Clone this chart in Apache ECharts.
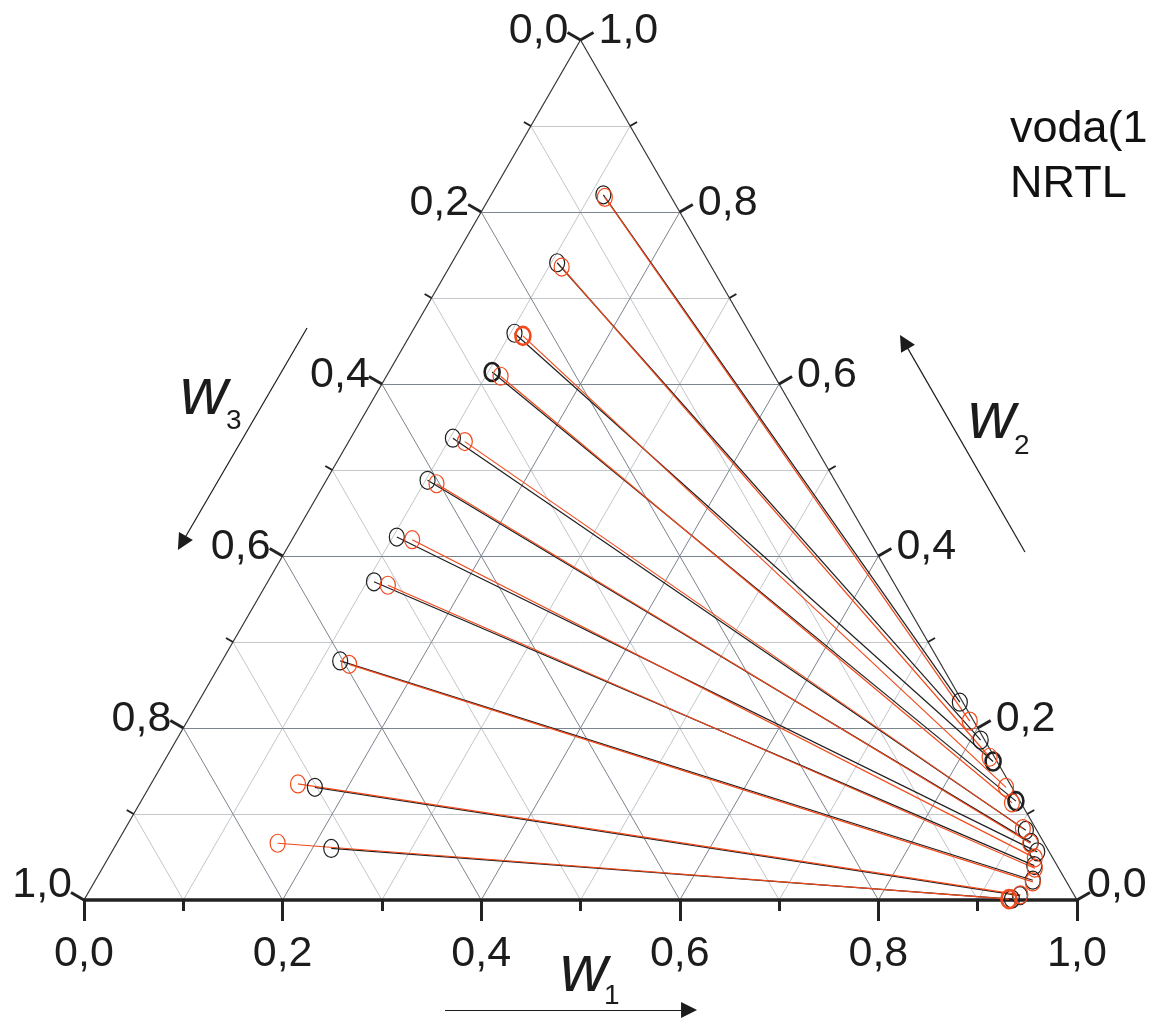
<!DOCTYPE html>
<html>
<head>
<meta charset="utf-8">
<script src="https://cdn.jsdelivr.net/npm/echarts@6/dist/echarts.min.js"></script>
<style>
  html, body { margin: 0; padding: 0; background: #ffffff; }
  #chart { width: 1159px; height: 1019px; }
</style>
</head>
<body>
<div id="chart"></div>
<script>
// Tie-line end points as mass fractions (w1, w2); w3 = 1 - w1 - w2.
// Experimental (black)
const expLeftW1  = [0.113, 0.106, 0.104, 0.104, 0.103, 0.102, 0.104, 0.107, 0.119, 0.167, 0.219];
const expLeftW2  = [0.820, 0.741, 0.659, 0.614, 0.537, 0.488, 0.422, 0.370, 0.278, 0.131, 0.060];
const expRightW1 = [0.767, 0.810, 0.835, 0.881, 0.908, 0.920, 0.932, 0.937, 0.944, 0.940, 0.934];
const expRightW2 = [0.230, 0.186, 0.161, 0.115, 0.081, 0.067, 0.056, 0.040, 0.023, 0.005, 0.001];
// NRTL correlation (orange)
const nrtlLeftW1  = [0.116, 0.113, 0.114, 0.115, 0.117, 0.113, 0.121, 0.123, 0.130, 0.148, 0.162];
const nrtlLeftW2  = [0.817, 0.736, 0.656, 0.609, 0.533, 0.484, 0.419, 0.366, 0.274, 0.135, 0.066];
const nrtlRightW1 = [0.788, 0.829, 0.863, 0.878, 0.904, 0.920, 0.933, 0.939, 0.945, 0.940, 0.931];
const nrtlRightW2 = [0.208, 0.166, 0.131, 0.113, 0.083, 0.066, 0.049, 0.037, 0.021, 0.006, 0.001];
// Axis ticks
const tickValues = [0, 0.2, 0.4, 0.6, 0.8, 1.0];
const tickLabels = ['0,0', '0,2', '0,4', '0,6', '0,8', '1,0'];

const SQ = Math.sqrt(3) / 2;
const PLOT_W = 993;            // pixel width of the triangle base
const px = (n) => n / PLOT_W;  // pixel length -> data units

// ternary (w1, w2) -> cartesian (x, y)
function tern(w1, w2) { return [w1 + w2 / 2, w2 * SQ]; }
function shift(p, dx, dy) { return [p[0] + dx, p[1] + dy]; }

const BLACK = '#1f1f1f';
const ORANGE = '#f24a1c';
const INK = '#1c1c1c';
const FONT = 'Liberation Sans, Arial, Helvetica, sans-serif';

// grid lines
const minorGrid = [], majorGrid = [];
for (let i = 1; i <= 9; i++) {
  const v = i / 10;
  const arr = (i % 2 === 0) ? majorGrid : minorGrid;
  arr.push({ coords: [tern(0, v), tern(1 - v, v)] });
  arr.push({ coords: [tern(v, 0), tern(v, 1 - v)] });
  arr.push({ coords: [tern(1 - v, 0), tern(0, 1 - v)] });
}

// triangle frame
const frame = [
  { coords: [tern(0, 0), tern(0, 1)], lineStyle: { width: 1.2, color: '#333' } },
  { coords: [tern(1, 0), tern(0, 1)], lineStyle: { width: 1.2, color: '#333' } },
  { coords: [tern(0, 0), tern(1, 0)], lineStyle: { width: 3.5, color: '#222' } }
];

// tick marks
const ticks = [];
const nL = [-0.866, 0.5], nR = [0.866, 0.5];
for (let i = 0; i <= 10; i++) {
  const v = i / 10;
  const major = i % 2 === 0;
  const b = tern(v, 0);
  ticks.push({ coords: [b, shift(b, 0, -px(major ? 21 : 11))], lineStyle: { width: 3, color: '#222' } });
  const l = tern(0, 1 - v);
  const ll = px(major ? 15 : 8);
  ticks.push({ coords: [l, shift(l, nL[0] * ll, nL[1] * ll)], lineStyle: { width: major ? 3 : 2, color: '#222' } });
  const r = tern(1 - v, v);
  ticks.push({ coords: [r, shift(r, nR[0] * ll, nR[1] * ll)], lineStyle: { width: major ? 3 : 2, color: '#222' } });
}

// tick labels: anchor point on the frame plus a pixel offset
const tickText = [];
tickValues.forEach((v, i) => {
  tickText.push({ p: tern(v, 0), text: tickLabels[i], dx: 0, dy: 54, align: 'center' });
  tickText.push({ p: tern(0, 1 - v), text: tickLabels[i], dx: -12, dy: v === 1 ? -15 : -9, align: 'right' });
  tickText.push({ p: tern(1 - v, v), text: tickLabels[i], dx: v === 0 ? 10 : 18, dy: v === 0 ? -15 : -9, align: 'left' });
});

function tieLines(lw1, lw2, rw1, rw2) {
  return lw1.map((_, i) => ({ coords: [tern(lw1[i], lw2[i]), tern(rw1[i], rw2[i])] }));
}
// points drawn with a heavier outline where several markers coincide
function points(lw1, lw2, rw1, rw2, heavyLeft, heavyRight) {
  const out = [];
  lw1.forEach((_, i) => {
    out.push(heavyLeft.includes(i) ? { value: tern(lw1[i], lw2[i]), itemStyle: { borderWidth: 2.6 } } : tern(lw1[i], lw2[i]));
    out.push(heavyRight.includes(i) ? { value: tern(rw1[i], rw2[i]), itemStyle: { borderWidth: 2.6 } } : tern(rw1[i], rw2[i]));
  });
  return out;
}

// upright ellipse marker (rx 10, ry 12), aspect kept when scaled
const ELLIPSE = 'path://M0,-12C5.52,-12,10,-6.63,10,0C10,6.63,5.52,12,0,12C-5.52,12,-10,6.63,-10,0C-10,-6.63,-5.52,-12,0,-12Z';

const chart = echarts.init(document.getElementById('chart'), null, { renderer: 'canvas' });
chart.setOption({
  animation: false,
  backgroundColor: '#ffffff',
  grid: { left: 84, top: 40, width: 993, height: 860, containLabel: false },
  xAxis: { type: 'value', min: 0, max: 1, show: false },
  yAxis: { type: 'value', min: 0, max: SQ, show: false },
  graphic: [
    { type: 'text', left: 1010, top: 107, style: { text: 'voda(1', font: '45px ' + FONT, fill: '#111' } },
    { type: 'text', left: 1010, top: 162, style: { text: 'NRTL', font: '45px ' + FONT, fill: '#111' } },
    { type: 'text', left: 560, top: 940, style: { text: 'w', font: 'italic 66px ' + FONT, fill: INK } },
    { type: 'text', left: 604, top: 982, style: { text: '1', font: '28px ' + FONT, fill: INK } },
    { type: 'text', left: 180, top: 363, style: { text: 'w', font: 'italic 66px ' + FONT, fill: INK } },
    { type: 'text', left: 226, top: 407, style: { text: '3', font: '28px ' + FONT, fill: INK } },
    { type: 'text', left: 968, top: 387, style: { text: 'w', font: 'italic 66px ' + FONT, fill: INK } },
    { type: 'text', left: 1014, top: 432, style: { text: '2', font: '28px ' + FONT, fill: INK } }
  ],
  series: [
    { type: 'lines', coordinateSystem: 'cartesian2d', silent: true, z: 1, clip: false,
      lineStyle: { color: '#c3c6ca', width: 1, opacity: 1 }, data: minorGrid },
    { type: 'lines', coordinateSystem: 'cartesian2d', silent: true, z: 2, clip: false,
      lineStyle: { color: '#7c848e', width: 1, opacity: 1 }, data: majorGrid },
    { type: 'lines', coordinateSystem: 'cartesian2d', silent: true, z: 3, clip: false,
      lineStyle: { opacity: 1 }, data: frame },
    { type: 'lines', coordinateSystem: 'cartesian2d', silent: true, z: 3, clip: false,
      lineStyle: { opacity: 1 }, data: ticks },
    // axis direction arrows
    { type: 'lines', coordinateSystem: 'cartesian2d', silent: true, z: 3, clip: false,
      symbol: ['none', 'triangle'], symbolSize: 16,
      lineStyle: { color: INK, width: 1.2, opacity: 1 }, itemStyle: { color: INK },
      data: [
        { coords: [[0.3636, -0.1108], [0.6093, -0.1108]] },
        { coords: [[0.2246, 0.5760], [0.0986, 0.3595]] },
        { coords: [[0.9476, 0.3505], [0.8258, 0.5620]] }
      ] },
    // tie lines
    { type: 'lines', coordinateSystem: 'cartesian2d', silent: true, z: 4, clip: false,
      lineStyle: { color: BLACK, width: 1.2, opacity: 1 },
      data: tieLines(expLeftW1, expLeftW2, expRightW1, expRightW2) },
    { type: 'lines', coordinateSystem: 'cartesian2d', silent: true, z: 5, clip: false,
      lineStyle: { color: ORANGE, width: 1.2, opacity: 1 },
      data: tieLines(nrtlLeftW1, nrtlLeftW2, nrtlRightW1, nrtlRightW2) },
    { type: 'scatter', silent: true, z: 6, clip: false, symbol: ELLIPSE, symbolSize: 18, symbolKeepAspect: true,
      itemStyle: { color: 'rgba(0,0,0,0)', borderColor: BLACK, borderWidth: 1.2, opacity: 1 },
      data: points(expLeftW1, expLeftW2, expRightW1, expRightW2, [3], [2, 3]) },
    { type: 'scatter', silent: true, z: 7, clip: false, symbol: ELLIPSE, symbolSize: 18, symbolKeepAspect: true,
      itemStyle: { color: 'rgba(0,0,0,0)', borderColor: ORANGE, borderWidth: 1.2, opacity: 1 },
      data: points(nrtlLeftW1, nrtlLeftW2, nrtlRightW1, nrtlRightW2, [2], [10]) },
    // tick labels
    { type: 'custom', coordinateSystem: 'cartesian2d', silent: true, z: 8, clip: false,
      data: tickText.map((t) => t.p),
      renderItem: function (params, api) {
        const t = tickText[params.dataIndex];
        const c = api.coord(t.p);
        return {
          type: 'text', x: c[0] + t.dx, y: c[1] + t.dy,
          style: { text: t.text, fill: INK, font: '43px ' + FONT, align: t.align, verticalAlign: 'middle' }
        };
      } }
  ]
});
</script>
</body>
</html>
